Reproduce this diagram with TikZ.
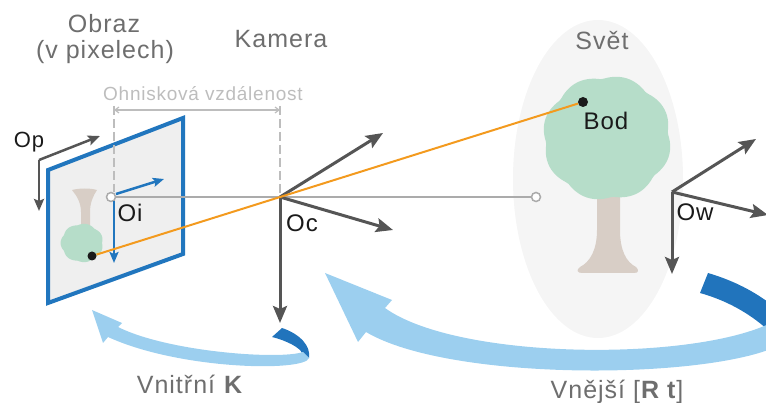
\documentclass[tikz,border=0pt]{standalone}
\usepackage{fontspec}
\setmainfont[LetterSpace=4]{Liberation Sans}
\usetikzlibrary{arrows.meta}
\definecolor{axgray}{HTML}{555555}
\definecolor{planeblue}{HTML}{2176BE}
\definecolor{lightribbon}{HTML}{9CCFEF}
\definecolor{darkribbon}{HTML}{2174BC}
\definecolor{leafgreen}{HTML}{B6DDC9}
\definecolor{barkbeige}{HTML}{D8CEC6}
\definecolor{worldfill}{HTML}{F5F5F5}
\definecolor{planefill}{HTML}{EFEFEF}
\definecolor{raycolor}{HTML}{F39A1E}
\definecolor{titlegray}{HTML}{6E6E6E}
\definecolor{dimgray}{HTML}{BDBDBD}
\definecolor{axisline}{HTML}{ABABAB}
\definecolor{labelblack}{HTML}{1A1A1A}
\begin{document}
\begin{tikzpicture}[x=1pt,y=-1pt,
  axis/.style={draw=axgray,line width=3pt,-{Stealth[length=17pt,width=14pt,inset=3pt]}},
  smallaxis/.style={draw=axgray,line width=2.5pt,-{Stealth[length=12pt,width=10pt,inset=2pt]}},
  pixaxis/.style={draw=planeblue,line width=2.5pt,-{Stealth[length=11pt,width=9pt,inset=2pt]}},
  dimline/.style={draw=dimgray,line width=1.2pt},
  dashline/.style={draw=dimgray,line width=1.5pt,dash pattern=on 9pt off 4pt},
  ring/.style={circle,draw=axisline,fill=white,line width=1.5pt,minimum size=9pt,inner sep=0pt},
  blackdot/.style={circle,fill=labelblack,minimum size=10pt,inner sep=0pt},
  title/.style={text=titlegray,font=\fontsize{25}{30}\selectfont,inner sep=0pt,anchor=base},
  dimtext/.style={text=dimgray,font=\fontsize{19}{23}\selectfont,inner sep=0pt,anchor=base},
  frame/.style={text=labelblack,font=\fontsize{24}{28}\selectfont,inner sep=0pt,anchor=base},
  smallframe/.style={text=labelblack,font=\fontsize{22}{26}\selectfont,inner sep=0pt,anchor=base}
]
\useasboundingbox (0,0) rectangle (766,403);
\clip (0,0) rectangle (766,403);

% world region
\fill[worldfill] (598,179) ellipse [x radius=85pt, y radius=159pt];

% tree in the world
\fill[barkbeige] (597,190) -- (597,230) .. controls (597,250) and (590,262) .. (580,267)
  .. controls (576,270) and (577,273) .. (582,273) -- (634,273)
  .. controls (639,273) and (639,270) .. (636,267)
  .. controls (626,262) and (620,250) .. (620,230) -- (620,190) -- cycle;
\fill[leafgreen] plot[smooth cycle,domain=0:357,samples=120,variable=\t]
  ({607+64*(0.95+0.06*abs(sin(4*\t+20)))*cos(\t)},{138+62*(0.95+0.06*abs(sin(4*\t+20)))*sin(\t)});

% image plane
\fill[planefill] (48,170) -- (183,118) -- (183,254) -- (48,303) -- cycle;
% inverted tree on the image plane
\fill[barkbeige] (72,190) .. controls (80,188) and (90,188) .. (97,190)
  .. controls (93,196) and (90,203) .. (90,212) -- (90,232) -- (81,232) -- (81,212)
  .. controls (81,203) and (77,196) .. (72,190) -- cycle;
\fill[leafgreen] plot[smooth cycle,domain=0:356,samples=90,variable=\t]
  ({82+21*(0.95+0.07*abs(sin(3.5*\t)))*cos(\t)},{243+19*(0.95+0.07*abs(sin(3.5*\t)))*sin(\t)});
\draw[planeblue,line width=4pt,line join=miter] (48,170) -- (183,118) -- (183,254) -- (48,303) -- cycle;

% optical axis
\node[ring] (oi) at (111,197) {};
\node[ring] (wc) at (536,197) {};
\draw[axisline,line width=1.5pt] (oi) -- (wc);

% focal length
\coordinate (fl) at (114,110);
\coordinate (fr) at (280,110);
\coordinate (flt) at (114,106);
\coordinate (flb) at (114,192);
\coordinate (frt) at (280,106);
\coordinate (frb) at (280,196);
\draw[dashline] (flt) -- (flb);
\draw[dashline] (frt) -- (frb);
\draw[dimline,{Straight Barb[length=4pt,width=6pt]}-{Straight Barb[length=4pt,width=6pt]}] (fl) -- (fr);
\node[dimtext] (focal) at (203,101) {Ohnisková vzdálenost};

% pixel frame
\coordinate (op) at (39,160);
\coordinate (opx) at (100,136);
\coordinate (opy) at (39,211);
\draw[smallaxis] (op) -- (opx);
\draw[smallaxis] (op) -- (opy);

% image frame
\coordinate (oix0) at (116,194);
\coordinate (oix) at (164,179);
\coordinate (oiy0) at (114,201);
\coordinate (oiy) at (114,263);
\draw[pixaxis] (oix0) -- (oix);
\draw[pixaxis] (oiy0) -- (oiy);

% camera frame
\coordinate (oc) at (280,197);
\coordinate (ocx) at (383,133);
\coordinate (ocz) at (393,230);
\coordinate (ocy) at (280,323);
\draw[axis] (oc) -- (ocx);
\draw[axis] (oc) -- (ocz);
\draw[axis] (oc) -- (ocy);

% world frame
\coordinate (ow) at (672,192);
\coordinate (owx) at (756,139);
\coordinate (owz) at (768,215);
\coordinate (owy) at (672,274);
\draw[axis] (ow) -- (owx);
\draw[axis] (ow) -- (owz);
\draw[axis] (ow) -- (owy);

% projection ray
\node[blackdot,minimum size=9pt] (pix) at (92,256) {};
\node[blackdot] (bod) at (583,102) {};
\draw[raycolor,line width=2pt] (pix) -- (bod);

% labels
\node[title] (obraz) at (104,33) {Obraz};
\node[title] (pixely) at (105,59) {(v pixelech)};
\node[title] (kamera) at (281,48) {Kamera};
\node[title] (svet) at (602,50) {Svět};
\node[smallframe] (lop) at (29,148) {Op};
\node[frame] (loi) at (130,222) {Oi};
\node[frame] (loc) at (302,232) {Oc};
\node[frame] (low) at (695,221) {Ow};
\node[frame,font=\fontsize{24}{28}\selectfont] (lbod) at (606,130) {Bod};

% intrinsic ribbon arrow
\fill[darkribbon] (282,328) .. controls (300,334) and (311,346) .. (309,358)
  -- (302,353) .. controls (300,348) and (288,341) .. (272,337) -- cycle;
\fill[lightribbon] (303,352) .. controls (280,360) and (168,352) .. (118,327)
  -- (122,323) -- (92,310) -- (103,343) -- (108,337)
  .. controls (180,370) and (305,372) .. (309,358) -- cycle;

% extrinsic ribbon arrow
\fill[darkribbon] (708,273) .. controls (735,281) and (755,292) .. (772,305)
  -- (768,330) .. controls (748,312) and (725,300) .. (700,293) -- cycle;
\fill[lightribbon] (780,318) .. controls (710,362) and (460,362) .. (385,308)
  -- (392,300) -- (325,273) -- (358,342) -- (366,332)
  .. controls (450,382) and (710,380) .. (780,345) -- cycle;

\node[title] (vnitrni) at (190,393) {Vnitřní \textbf{K}};
\node[title] (vnejsi) at (617,398) {Vnější [\textbf{R t}]};
\end{tikzpicture}
\end{document}
